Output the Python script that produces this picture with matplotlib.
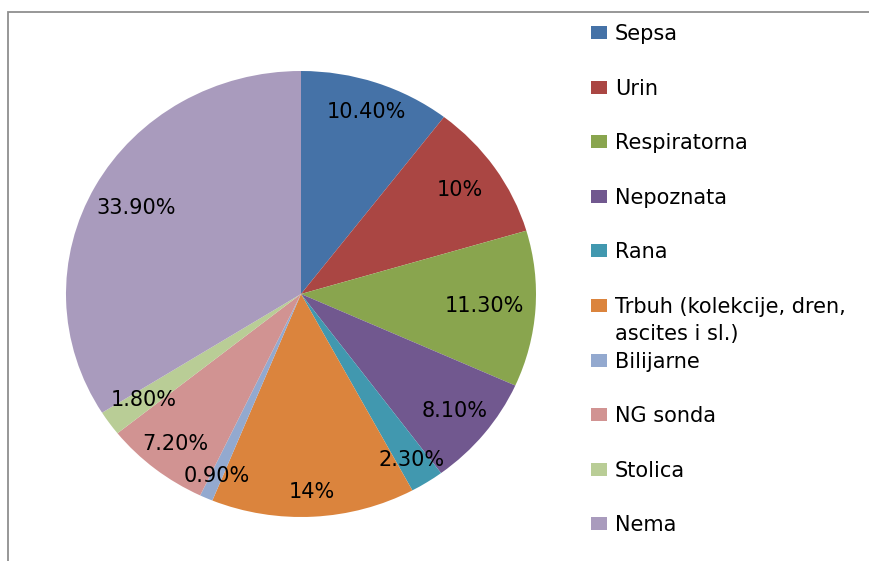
import matplotlib
matplotlib.use("Agg")
import matplotlib.pyplot as plt
from matplotlib.patches import Rectangle
import numpy as np

categories = ["Sepsa", "Urin", "Respiratorna", "Nepoznata", "Rana",
              "Trbuh (kolekcije, dren,\nascites i sl.)", "Bilijarne",
              "NG sonda", "Stolica", "Nema"]
values = [10.4, 10.0, 11.3, 8.1, 2.3, 14.0, 0.9, 7.2, 1.8, 33.9]
value_labels = ["10.40%", "10%", "11.30%", "8.10%", "2.30%", "14%",
                "0.90%", "7.20%", "1.80%", "33.90%"]
colors = ["#4572A7", "#AA4643", "#89A54E", "#71588F", "#4198AF",
          "#DB843D", "#93A9CF", "#D19392", "#B9CD96", "#A99BBD"]

W, H = 870, 561
plt.rcParams['font.family'] = ['DejaVu Sans']
fig = plt.figure(figsize=(W / 100, H / 100), dpi=100)

# frame
fig.add_artist(Rectangle((8 / W, -0.1), 1.2, (H - 12) / H + 0.1,
                         transform=fig.transFigure, fill=False,
                         edgecolor="#8f8f8f", linewidth=1.3))

ax = fig.add_axes([0, 0, 1, 1])
cx, cy = 301, 294
rx, ry = 235, 223
wedges, _ = ax.pie(values, colors=colors, startangle=90, counterclock=False,
                   wedgeprops=dict(linewidth=0))
ax.set_aspect('auto')
ax.set_xlim(-cx / rx, (W - cx) / rx)
ax.set_ylim(-(H - cy) / ry, cy / ry)
ax.axis('off')

dists = [0.86, 0.82, 0.78, 0.84, 0.88, 0.89, 0.89, 0.86, 0.82, 0.80]
for w, lab, d in zip(wedges, value_labels, dists):
    ang = np.deg2rad((w.theta1 + w.theta2) / 2)
    ax.text(d * np.cos(ang), d * np.sin(ang), lab, ha='center', va='center',
            fontsize=15, color='black')

# legend
y0, dy = 33, 54.6
for i, (cat, col) in enumerate(zip(categories, colors)):
    y = y0 + i * dy
    fig.add_artist(Rectangle((591 / W, 1 - (y + 6) / H), 16 / W, 13 / H,
                             transform=fig.transFigure, facecolor=col,
                             edgecolor='none'))
    fig.text(615 / W, 1 - (y - 9) / H, cat, ha='left', va='top',
             fontsize=15, color='black', linespacing=1.45)

fig.savefig("out.png", dpi=100)
